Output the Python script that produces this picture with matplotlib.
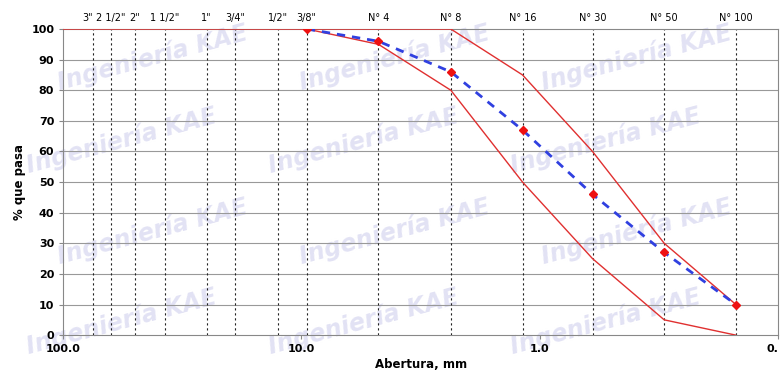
import numpy as np
import matplotlib.pyplot as plt

# sieve openings (mm) and names
sieve_names = ['3"', '2 1/2"', '2"', '1 1/2"', '1"', '3/4"', '1/2"', '3/8"',
               'N° 4', 'N° 8', 'N° 16', 'N° 30', 'N° 50', 'N° 100']
sieve_mm = [75.0, 63.0, 50.0, 37.5, 25.0, 19.0, 12.5, 9.5,
            4.75, 2.36, 1.18, 0.6, 0.3, 0.15]

# grading curve
curve_mm = [9.5, 4.75, 2.36, 1.18, 0.6, 0.3, 0.15]
curve_pass = [100, 96, 86, 67, 46, 27, 10]

# specification limits
upper_mm = [100.0, 9.5, 4.75, 2.36, 1.18, 0.6, 0.3, 0.15]
upper_pass = [100, 100, 100, 100, 85, 60, 30, 10]
lower_mm = [9.5, 4.75, 2.36, 1.18, 0.6, 0.3, 0.15]
lower_pass = [100, 95, 80, 50, 25, 5, 0]

fig = plt.figure(figsize=(7.81, 3.77), dpi=100)
ax = fig.add_axes([0.081, 0.111, 0.915, 0.812])

# faint watermark behind the axes, kept inside the figure
for row, yy in enumerate([0.06, 0.30, 0.54, 0.76]):
    for xx in [0.03, 0.34, 0.65]:
        fig.text(xx + 0.04 * (row % 2), yy, "Ingeniería KAE", fontsize=17,
                 fontstyle='italic', fontweight='bold', color='#e2e2f4',
                 rotation=15, zorder=-5)

ax.set_xscale('log')
ax.set_xlim(100, 0.1)
ax.set_ylim(0, 100)
ax.patch.set_alpha(0)

for y in range(10, 100, 10):
    ax.axhline(y, color='#999999', lw=0.8, zorder=1)
for s in sieve_mm:
    ax.axvline(s, color='#222222', lw=0.8, ls=(0, (2, 2.5)), zorder=1)

ax.plot(upper_mm, upper_pass, color='#e03030', lw=1.0, zorder=3)
ax.plot(lower_mm, lower_pass, color='#e03030', lw=1.0, zorder=3)
ax.plot(curve_mm, curve_pass, color='#3040e0', lw=2.0, ls=(0, (3, 2.5)), zorder=4)
ax.plot(curve_mm, curve_pass, ls='none', marker='D', ms=4.5, color='#ee1111', zorder=5)

ax.set_xticks([100, 10, 1, 0.1])
ax.set_xticklabels(['100.0', '10.0', '1.0', '0.'], fontweight='bold', fontsize=8)
ax.get_xticklabels()[-1].set_horizontalalignment('right')
ax.xaxis.set_minor_locator(plt.NullLocator())
ax.set_yticks(range(0, 101, 10))
ax.set_yticklabels([str(v) for v in range(0, 101, 10)], fontweight='bold', fontsize=8)
ax.tick_params(axis='both', length=3, color='#888888')

top = ax.secondary_xaxis('top')
top.set_xticks(sieve_mm)
top.set_xticklabels(sieve_names, fontsize=7)
top.xaxis.set_minor_locator(plt.NullLocator())
top.tick_params(length=0, pad=4)
top.spines['top'].set_visible(False)
top.get_xticklabels()[0].set_horizontalalignment('right')

for sp in ax.spines.values():
    sp.set_color('#888888')

ax.set_xlabel('Abertura, mm', fontweight='bold', fontsize=8.5, labelpad=3)
ax.set_ylabel('% que pasa', fontweight='bold', fontsize=8.5)

fig.savefig('out.png', dpi=100)
